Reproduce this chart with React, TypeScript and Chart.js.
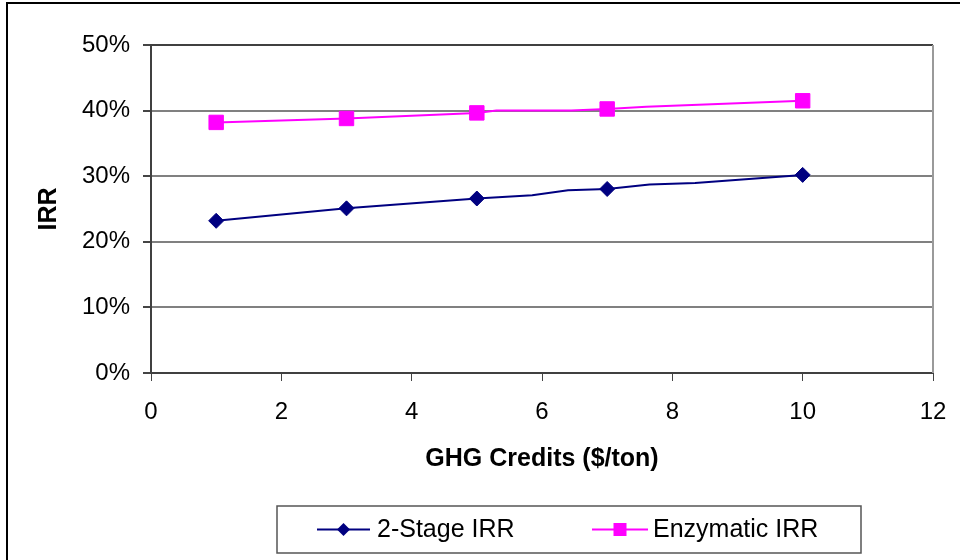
import React, { useEffect, useRef } from "react";
import { Chart, registerables } from "chart.js";

Chart.register(...registerables);

// ---- data ----
const stageX = [1, 3, 5, 5.85, 6.4, 7, 7.65, 8.35, 10];
const stageIRR = [23.2, 25.1, 26.6, 27.1, 27.85, 28.05, 28.75, 28.95, 30.2];
const enzX = [1, 3, 5, 5.3, 6.45, 7, 7.6, 10];
const enzIRR = [38.2, 38.8, 39.65, 40.0, 40.0, 40.25, 40.6, 41.5];
const markedX = [1, 3, 5, 7, 10];
const seriesLabels = ["2-Stage IRR", "Enzymatic IRR"];
const xTitle = "GHG Credits ($/ton)";
const yTitle = "IRR";

const FONT = "'Liberation Sans', Arial, sans-serif";
const NAVY = "#000080";
const MAGENTA = "#FF00FF";

const framePlugin = {
  id: "frame",
  beforeDraw(chart: any) {
    const ctx = chart.ctx;
    ctx.save();
    ctx.fillStyle = "#fff";
    ctx.fillRect(0, 0, chart.width, chart.height);
    ctx.strokeStyle = "#000";
    ctx.lineWidth = 2;
    ctx.beginPath();
    ctx.moveTo(7, chart.height + 5);
    ctx.lineTo(7, 3);
    ctx.lineTo(chart.width + 5, 3);
    ctx.stroke();
    ctx.restore();
  },
  afterDraw(chart: any) {
    const ctx = chart.ctx;
    const a = chart.chartArea;
    ctx.save();
    // plot right border
    ctx.strokeStyle = "#9a9a9a";
    ctx.lineWidth = 2;
    ctx.beginPath();
    ctx.moveTo(a.right, a.top);
    ctx.lineTo(a.right, a.bottom);
    ctx.stroke();
    // legend box
    const bx = 277, by = 506, bw = 584, bh = 47;
    ctx.strokeStyle = "#555";
    ctx.lineWidth = 1.5;
    ctx.strokeRect(bx, by, bw, bh);
    const cy = by + bh / 2;
    const items = [
      { x0: 317, x1: 370, tx: 377 },
      { x0: 592, x1: 648, tx: 653 },
    ];
    chart.data.datasets.forEach((ds: any, i: number) => {
      const it = items[i];
      ctx.strokeStyle = ds.borderColor;
      ctx.lineWidth = 2;
      ctx.beginPath();
      ctx.moveTo(it.x0, cy);
      ctx.lineTo(it.x1, cy);
      ctx.stroke();
      const mx = (it.x0 + it.x1) / 2;
      ctx.fillStyle = ds.borderColor;
      ctx.beginPath();
      if (ds.pointStyle === "rectRot") {
        const r = 6.5;
        ctx.moveTo(mx, cy - r);
        ctx.lineTo(mx + r, cy);
        ctx.lineTo(mx, cy + r);
        ctx.lineTo(mx - r, cy);
        ctx.closePath();
      } else {
        ctx.rect(mx - 6.5, cy - 6.5, 13, 13);
      }
      ctx.fill();
      ctx.fillStyle = "#000";
      ctx.font = `25px ${FONT}`;
      ctx.textBaseline = "middle";
      ctx.textAlign = "left";
      ctx.fillText(ds.label, it.tx, cy + 1);
    });
    ctx.restore();
  },
};

export default function App() {
  const ref = useRef<HTMLCanvasElement | null>(null);
  useEffect(() => {
    document.body.style.margin = "0";
    const canvas = ref.current!;
    const radiusFn = (r: number) => (c: any) =>
      c.raw && markedX.includes(c.raw.x) ? r : 0;
    const chart = new Chart(canvas, {
      type: "line",
      data: {
        datasets: [
          {
            label: seriesLabels[0],
            data: stageX.map((x, i) => ({ x, y: stageIRR[i] })),
            borderColor: NAVY,
            backgroundColor: NAVY,
            borderWidth: 2,
            pointStyle: "rectRot",
            pointRadius: radiusFn(7.5),
            pointBorderWidth: 1,
            pointHoverRadius: radiusFn(7.5),
            tension: 0,
          },
          {
            label: seriesLabels[1],
            data: enzX.map((x, i) => ({ x, y: enzIRR[i] })),
            borderColor: MAGENTA,
            backgroundColor: MAGENTA,
            borderWidth: 2,
            pointStyle: "rect",
            pointRadius: radiusFn(10.2),
            pointBorderWidth: 1,
            pointHoverRadius: radiusFn(10.2),
            tension: 0,
          },
        ],
      },
      options: {
        responsive: false,
        animation: false,
        layout: { padding: { left: 0, top: 45, right: 27, bottom: 67 } },
        plugins: {
          legend: { display: false },
          tooltip: { enabled: false },
        },
        scales: {
          x: {
            type: "linear",
            min: 0,
            max: 12,
            afterFit: (s: any) => {
              s.height = 120;
              s.paddingLeft = 0;
              s.paddingRight = 0;
            },
            ticks: {
              stepSize: 2,
              color: "#000",
              font: { family: FONT, size: 24 },
              padding: 17,
              maxRotation: 0,
            },
            grid: {
              display: true,
              drawOnChartArea: false,
              drawTicks: true,
              tickLength: 8,
              tickColor: "#444",
            },
            border: { color: "#404040", width: 2 },
            title: {
              display: true,
              text: xTitle,
              color: "#000",
              font: { family: FONT, size: 25, weight: "bold" },
              padding: { top: 0, bottom: 19 },
            },
          },
          y: {
            min: 0,
            max: 50,
            afterFit: (s: any) => {
              s.width = 151;
              s.paddingTop = 0;
              s.paddingBottom = 0;
            },
            ticks: {
              stepSize: 10,
              color: "#000",
              font: { family: FONT, size: 24 },
              padding: 13,
              callback: (v: any) => `${v}%`,
            },
            grid: {
              color: (c: any) => (c.tick && c.tick.value === 50 ? "#404040" : "#808080"),
              lineWidth: 2,
              tickLength: 8,
              tickColor: "#444",
            },
            border: { color: "#404040", width: 2 },
            title: {
              display: true,
              text: yTitle,
              color: "#000",
              font: { family: FONT, size: 25, weight: "bold" },
              padding: { top: 34, bottom: 0 },
            },
          },
        },
      },
      plugins: [framePlugin],
    });
    return () => chart.destroy();
  }, []);
  return (
    <div style={{ width: 960, height: 560 }}>
      <canvas ref={ref} width={960} height={560} />
    </div>
  );
}
